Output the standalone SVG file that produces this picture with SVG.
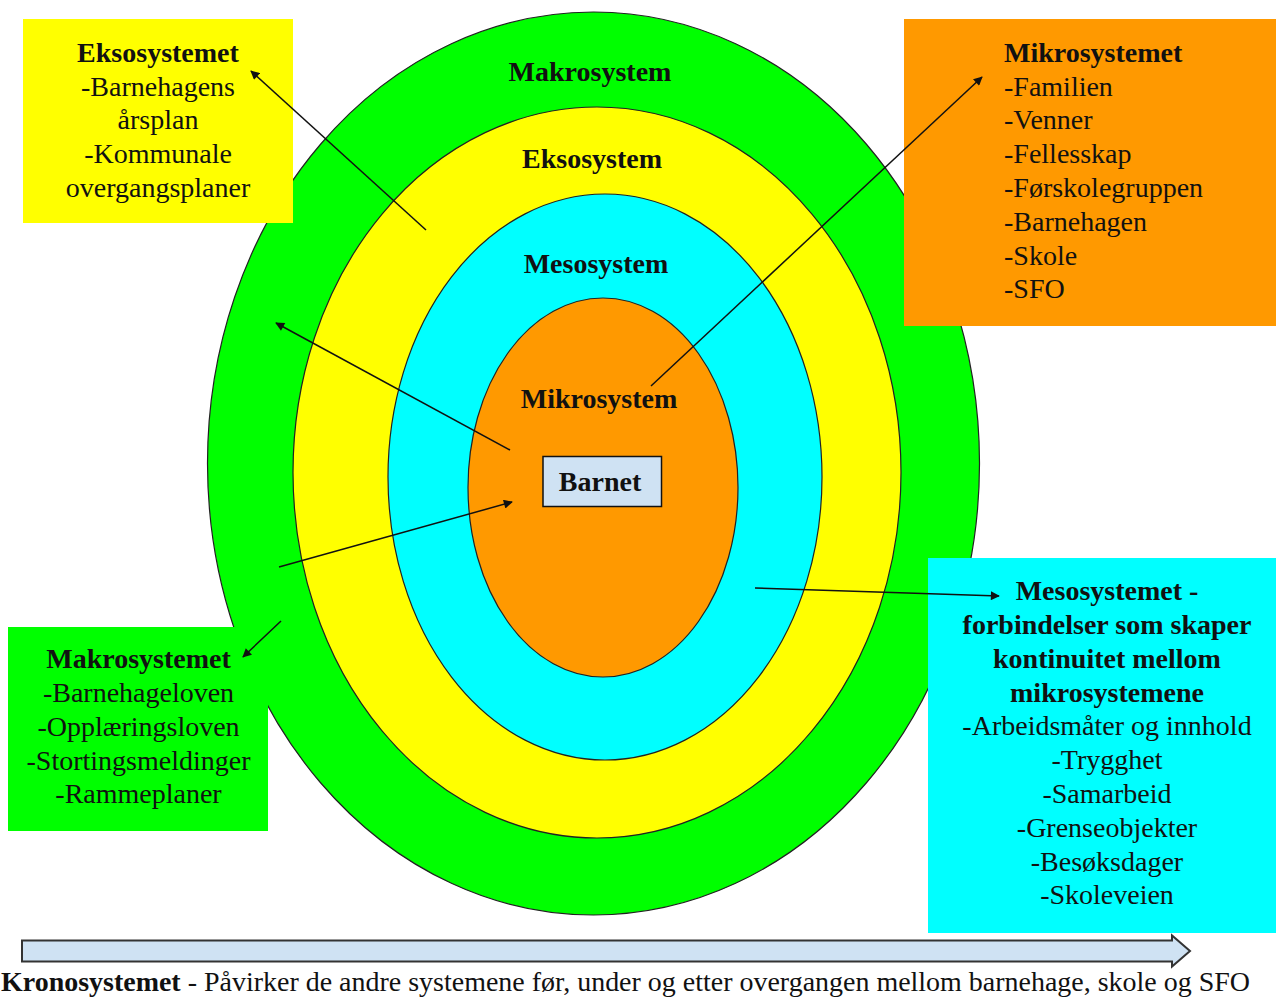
<svg xmlns="http://www.w3.org/2000/svg" width="1276" height="997" viewBox="0 0 1276 997">
  <style>
    text { font-family: "Liberation Serif", "Times New Roman", serif; fill: #111; font-size: 28px; }
    .b { font-weight: bold; }
    .c { text-anchor: middle; }
    .ring { stroke: #222; stroke-width: 1.2; }
    .conn { stroke: #111; stroke-width: 1.5; fill: none; marker-end: url(#ah); }
  </style>
  <defs>
    <marker id="ah" viewBox="0 0 10 10" refX="9" refY="5" markerWidth="10" markerHeight="9" markerUnits="userSpaceOnUse" orient="auto">
      <path d="M0,0 L10,5 L0,10 z" fill="#111"/>
    </marker>
  </defs>
  <rect width="1276" height="997" fill="#fff"/>

  <!-- nested system rings -->
  <g id="makro-ring">
    <ellipse class="ring" cx="593.5" cy="463.5" rx="386" ry="451.5" fill="#00ff00"/>
    <text class="b c" x="590" y="81">Makrosystem</text>
  </g>
  <g id="ekso-ring">
    <ellipse class="ring" cx="597" cy="472.5" rx="304" ry="365.5" fill="#ffff00"/>
    <text class="b c" x="592" y="168">Eksosystem</text>
  </g>
  <g id="meso-ring">
    <ellipse class="ring" cx="605" cy="477" rx="217" ry="283" fill="#00ffff"/>
    <text class="b c" x="596" y="273">Mesosystem</text>
  </g>
  <g id="mikro-ring">
    <ellipse class="ring" cx="603" cy="487.5" rx="135" ry="189.5" fill="#ff9900"/>
    <text class="b c" x="599" y="408">Mikrosystem</text>
  </g>
  <g id="barnet">
    <rect x="543" y="456.5" width="118.5" height="50" fill="#cfe2f3" stroke="#111" stroke-width="1.5"/>
    <text class="b c" x="600" y="491">Barnet</text>
  </g>

  <!-- description boxes -->
  <g id="ekso-box">
    <rect x="23" y="19" width="270" height="204" fill="#ffff00"/>
    <text class="b c" x="158" y="62">Eksosystemet</text>
    <text class="c" x="158" y="96">-Barnehagens</text>
    <text class="c" x="158" y="129">årsplan</text>
    <text class="c" x="158" y="163">-Kommunale</text>
    <text class="c" x="158" y="197">overgangsplaner</text>
  </g>
  <g id="mikro-box">
    <rect x="904" y="19" width="372" height="307" fill="#ff9900"/>
    <text class="b" x="1004" y="62">Mikrosystemet</text>
    <text x="1004" y="96">-Familien</text>
    <text x="1004" y="129">-Venner</text>
    <text x="1004" y="163">-Fellesskap</text>
    <text x="1004" y="197">-Førskolegruppen</text>
    <text x="1004" y="231">-Barnehagen</text>
    <text x="1004" y="265">-Skole</text>
    <text x="1004" y="298">-SFO</text>
  </g>
  <g id="makro-box">
    <rect x="8" y="627" width="260" height="204" fill="#00ff00"/>
    <text class="b c" x="138.5" y="668">Makrosystemet</text>
    <text class="c" x="138.5" y="702">-Barnehageloven</text>
    <text class="c" x="138.5" y="736">-Opplæringsloven</text>
    <text class="c" x="138.5" y="770">-Stortingsmeldinger</text>
    <text class="c" x="138.5" y="803">-Rammeplaner</text>
  </g>
  <g id="meso-box">
    <rect x="928" y="558" width="348" height="375" fill="#00ffff"/>
    <text class="b c" x="1107" y="600">Mesosystemet -</text>
    <text class="b c" x="1107" y="634">forbindelser som skaper</text>
    <text class="b c" x="1107" y="668">kontinuitet mellom</text>
    <text class="b c" x="1107" y="702">mikrosystemene</text>
    <text class="c" x="1107" y="735">-Arbeidsmåter og innhold</text>
    <text class="c" x="1107" y="769">-Trygghet</text>
    <text class="c" x="1107" y="803">-Samarbeid</text>
    <text class="c" x="1107" y="837">-Grenseobjekter</text>
    <text class="c" x="1107" y="871">-Besøksdager</text>
    <text class="c" x="1107" y="904">-Skoleveien</text>
  </g>

  <!-- time axis -->
  <g id="krono">
    <path d="M22,940.5 L1172,940.5 L1172,935.5 L1190,951 L1172,966.5 L1172,961.5 L22,961.5 Z" fill="#cfe2f3" stroke="#333" stroke-width="2"/>
    <text x="1" y="991" font-size="25" textLength="1249" lengthAdjust="spacingAndGlyphs"><tspan class="b">Kronosystemet</tspan> - Påvirker de andre systemene før, under og etter overgangen mellom barnehage, skole og SFO</text>
  </g>

  <!-- connectors -->
  <g id="connectors">
    <line class="conn" x1="426" y1="230" x2="251" y2="71"/>
    <line class="conn" x1="651" y1="386" x2="982" y2="77"/>
    <line class="conn" x1="510" y1="450" x2="276" y2="323"/>
    <line class="conn" x1="279" y1="567" x2="512" y2="502"/>
    <line class="conn" x1="281" y1="621" x2="243" y2="657"/>
    <line class="conn" x1="755" y1="588" x2="999" y2="596"/>
  </g>
</svg>
